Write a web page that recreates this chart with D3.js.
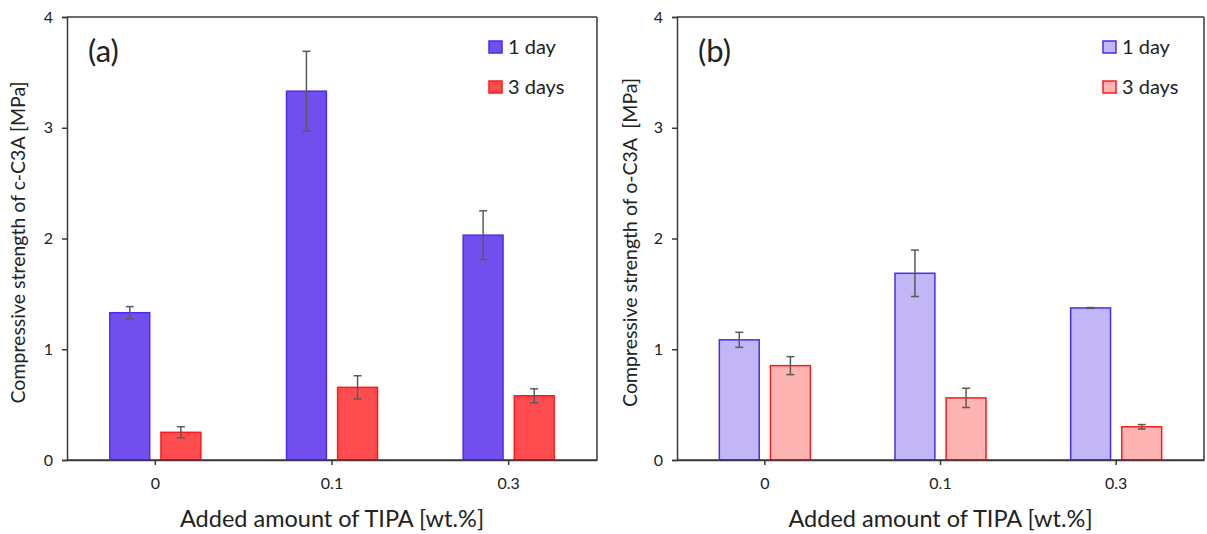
<!DOCTYPE html>
<html><head><meta charset="utf-8">
<script src="https://cdn.jsdelivr.net/npm/d3@7"></script>
<style>body{margin:0;background:#fff}svg{display:block}text{font-family:Lato,"Open Sans",sans-serif;fill:#222}</style>
</head><body><svg id="c" width="1207" height="534"></svg>
<script>
const categories = ["0", "0.1", "0.3"];
const seriesNames = ["1 day", "3 days"];
const yTicks = [0, 1, 2, 3, 4];
const a1day = [1.33, 3.33, 2.03];
const a1dayErr = [0.055, 0.36, 0.22];
const a3days = [0.25, 0.656, 0.58];
const a3daysErr = [0.05, 0.105, 0.063];
const b1day = [1.085, 1.686, 1.373];
const b1dayErr = [0.068, 0.21, 0.004];
const b3days = [0.852, 0.561, 0.30];
const b3daysErr = [0.081, 0.087, 0.02];

const svg = d3.select("#c");

function panel(opt) {
  const {x0, x1, top, bottom, label, ytitle, s1, e1, s2, e2, fills, strokes, ytitleX, legendX} = opt;
  const g = svg.append("g");
  const x = d3.scaleBand().domain(categories).range([x0, x1]);
  const y = d3.scaleLinear().domain([0, 4]).range([bottom, top]);
  const inner = d3.scaleBand().domain(seriesNames).range([0, 91]).paddingInner(0.22);
  const axisColor = "#3a3a3a";

  g.append("line").attr("x1", x0).attr("x2", x1).attr("y1", top).attr("y2", top).attr("stroke", axisColor).attr("stroke-width", 1.5);
  g.append("line").attr("x1", x1).attr("x2", x1).attr("y1", top).attr("y2", bottom).attr("stroke", axisColor).attr("stroke-width", 1.5);

  const yAx = g.append("g").attr("transform", `translate(${x0},0)`)
    .call(d3.axisLeft(y).tickValues(yTicks).tickSize(5).tickPadding(9).tickFormat(d3.format("d")));
  yAx.selectAll("path,line").attr("stroke", axisColor).attr("stroke-width", 1.5);
  yAx.selectAll("text").style("font-size", "16px").attr("fill", "#333");

  const xAx = g.append("g").attr("transform", `translate(0,${bottom})`)
    .call(d3.axisBottom(x).tickSize(5).tickSizeOuter(0).tickPadding(13));
  xAx.selectAll("path,line").attr("stroke", axisColor).attr("stroke-width", 1.5);
  xAx.selectAll("text").style("font-size", "16px").attr("fill", "#333");

  const series = [[s1, e1], [s2, e2]];
  series.forEach(([vals, errs], si) => {
    const name = seriesNames[si];
    categories.forEach((c, i) => {
      const bx = x(c) + x.bandwidth() / 2 - 45.5 + inner(name);
      const bw = inner.bandwidth();
      g.append("rect").attr("x", bx).attr("y", y(vals[i])).attr("width", bw)
        .attr("height", y(0) - y(vals[i])).attr("fill", fills[si]).attr("stroke", strokes[si]).attr("stroke-width", 1.5);
      const cx = bx + bw / 2;
      const hi = y(vals[i] + errs[i]), lo = y(vals[i] - errs[i]);
      const eg = g.append("g").attr("stroke", "#5a5a5a").attr("stroke-width", 1.5);
      eg.append("line").attr("x1", cx).attr("x2", cx).attr("y1", hi).attr("y2", lo);
      eg.append("line").attr("x1", cx - 4).attr("x2", cx + 4).attr("y1", hi).attr("y2", hi);
      eg.append("line").attr("x1", cx - 4).attr("x2", cx + 4).attr("y1", lo).attr("y2", lo);
    });
  });
  g.append("line").attr("x1", x0).attr("x2", x1).attr("y1", bottom).attr("y2", bottom).attr("stroke", axisColor).attr("stroke-width", 1.5);

  g.append("text").attr("x", x0 + 21).attr("y", 62).style("font-size", "31px").text(label);

  seriesNames.forEach((n, i) => {
    const ly = 41 + i * 40;
    g.append("rect").attr("x", legendX).attr("y", ly).attr("width", 13).attr("height", 12)
      .attr("fill", fills[i]).attr("stroke", strokes[i]).attr("stroke-width", 1.5);
    g.append("text").attr("x", legendX + 19).attr("y", ly + 13).style("font-size", "20px").text(n);
  });

  g.append("text").attr("transform", `translate(${ytitleX},${(top + bottom) / 2 + 4}) rotate(-90)`)
    .attr("text-anchor", "middle").style("font-size", "19.5px").style("white-space", "pre").text(ytitle);
  g.append("text").attr("x", (x0 + x1) / 2).attr("y", 527).attr("text-anchor", "middle")
    .style("font-size", "23.5px").text("Added amount of TIPA [wt.%]");
}

panel({x0: 67, x1: 597, top: 17, bottom: 460, label: "(a)", ytitle: "Compressive strength of c-C3A [MPa]",
  s1: a1day, e1: a1dayErr, s2: a3days, e2: a3daysErr,
  fills: ["#704fee", "#ff4d4f"], strokes: ["#4a2cf0", "#ff1a1a"], ytitleX: 25, legendX: 489});
panel({x0: 677, x1: 1204, top: 17, bottom: 460, label: "(b)", ytitle: "Compressive strength of o-C3A  [MPa]",
  s1: b1day, e1: b1dayErr, s2: b3days, e2: b3daysErr,
  fills: ["#c3b6f6", "#ffb4b4"], strokes: ["#4a2cf0", "#ff1a1a"], ytitleX: 637, legendX: 1103});
</script></body></html>
